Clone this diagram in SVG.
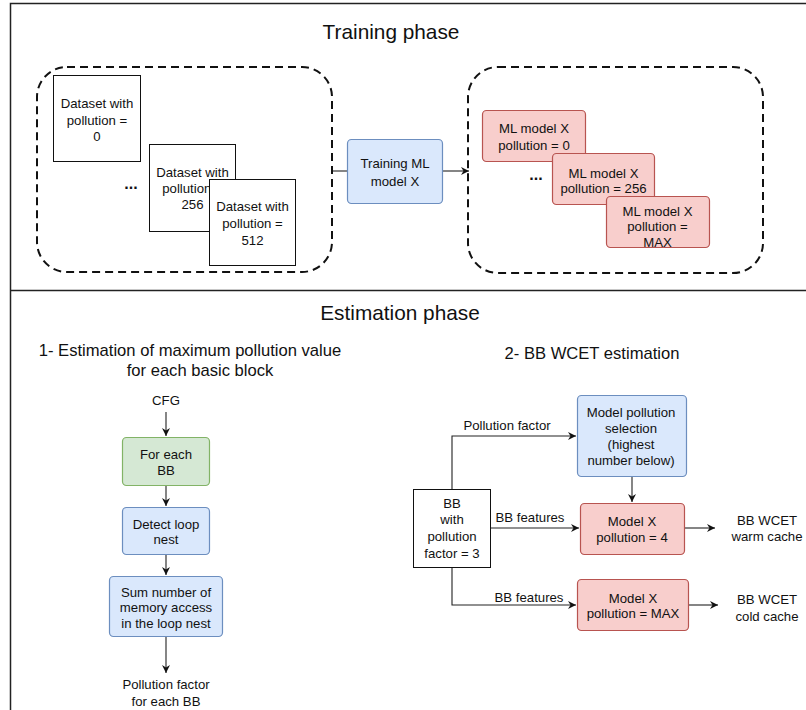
<svg xmlns="http://www.w3.org/2000/svg" width="806" height="710" viewBox="0 0 806 710">
<style>
text{font-family:"Liberation Sans",Arial,sans-serif;fill:#111;text-anchor:middle}
.n{font-size:13.2px}
.t{font-size:20.8px}
.s{font-size:16.6px}
.box{fill:#fff;stroke:#111;stroke-width:1}
.blue{fill:#dae8fc;stroke:#6c8ebf;stroke-width:1.2}
.red{fill:#f8cecc;stroke:#b85450;stroke-width:1.2}
.green{fill:#d5e8d4;stroke:#82b366;stroke-width:1.2}
.dash{fill:none;stroke:#111;stroke-width:2;stroke-dasharray:8 5}
.c{fill:none;stroke:#222;stroke-width:1.1}
.dots{font-size:16px;font-weight:bold}
</style>
<defs>
<marker id="ar" markerWidth="10" markerHeight="10" refX="8" refY="5" orient="auto" markerUnits="userSpaceOnUse">
<path d="M0,1 L8,5 L0,9 L2.5,5 Z" fill="#111"/>
</marker>
</defs>
<rect width="806" height="710" fill="#fff"/>
<g id="frame">
<rect x="10.5" y="3.5" width="820" height="800" fill="none" stroke="#222" stroke-width="1.5"/>
<line x1="10" y1="290.5" x2="806" y2="290.5" stroke="#222" stroke-width="1.5"/>
</g>
<g id="titles">
<text class="t" x="391" y="39">Training phase</text>
<text class="t" x="400" y="320">Estimation phase</text>
<text class="s" x="190" y="356">1- Estimation of maximum pollution value</text>
<text class="s" x="200" y="376">for each basic block</text>
<text class="s" x="592" y="359">2- BB WCET estimation</text>
</g>
<g id="connectors">
<line class="c" x1="332" y1="171" x2="347" y2="171"/>
<line class="c" x1="443" y1="171" x2="469" y2="171" marker-end="url(#ar)"/>
<line class="c" x1="166" y1="412" x2="166" y2="436" marker-end="url(#ar)"/>
<line class="c" x1="166" y1="486" x2="166" y2="506" marker-end="url(#ar)"/>
<line class="c" x1="166" y1="555" x2="166" y2="575" marker-end="url(#ar)"/>
<line class="c" x1="166" y1="637" x2="166" y2="673" marker-end="url(#ar)"/>
<polyline class="c" points="452,489 452,436 576,436" marker-end="url(#ar)"/>
<line class="c" x1="491" y1="528" x2="579" y2="528" marker-end="url(#ar)"/>
<polyline class="c" points="452,567 452,605 576,605" marker-end="url(#ar)"/>
<line class="c" x1="632" y1="476" x2="632" y2="502" marker-end="url(#ar)"/>
<line class="c" x1="684" y1="528" x2="715" y2="528" marker-end="url(#ar)"/>
<line class="c" x1="689" y1="605" x2="718" y2="605" marker-end="url(#ar)"/>
<text class="n" x="507" y="429.5">Pollution factor</text>
<text class="n" x="530" y="521.5">BB features</text>
<text class="n" x="529" y="601.5">BB features</text>
</g>
<g id="datasets-group">
<rect class="dash" x="37" y="67" width="295" height="205" rx="30"/>
</g>
<g id="dataset0">
<rect class="box" x="53.5" y="75.5" width="87" height="86"/>
<text class="n" x="97" y="108">Dataset with</text>
<text class="n" x="97" y="124.5">pollution =</text>
<text class="n" x="97" y="140.5">0</text>
</g>
<g id="dots1"><text class="dots" x="131" y="189">...</text></g>
<g id="dataset256">
<rect class="box" x="149.5" y="144.5" width="86" height="87"/>
<text class="n" x="192.5" y="177">Dataset with</text>
<text class="n" x="192.5" y="193">pollution =</text>
<text class="n" x="192.5" y="208.5">256</text>
</g>
<g id="dataset512">
<rect class="box" x="209.5" y="179.5" width="86" height="86"/>
<text class="n" x="252.5" y="211">Dataset with</text>
<text class="n" x="252.5" y="227.5">pollution =</text>
<text class="n" x="252.5" y="244.5">512</text>
</g>
<g id="training">
<rect class="blue" x="347.5" y="139.5" width="95" height="64" rx="4"/>
<text class="n" x="395" y="168">Training ML</text>
<text class="n" x="395" y="186">model X</text>
</g>
<g id="models-group">
<rect class="dash" x="468" y="67" width="295" height="206" rx="30"/>
</g>
<g id="model0">
<rect class="red" x="482.5" y="110.5" width="103" height="51" rx="4"/>
<text class="n" x="534" y="133">ML model X</text>
<text class="n" x="534" y="149.5">pollution = 0</text>
</g>
<g id="dots2"><text class="dots" x="536" y="180">...</text></g>
<g id="model256">
<rect class="red" x="552.5" y="153.5" width="102" height="51" rx="4"/>
<text class="n" x="603.5" y="178">ML model X</text>
<text class="n" x="603.5" y="193">pollution = 256</text>
</g>
<g id="modelMax">
<rect class="red" x="606.5" y="196.5" width="103" height="51" rx="4"/>
<text class="n" x="657.5" y="216">ML model X</text>
<text class="n" x="657.5" y="231">pollution =</text>
<text class="n" x="657.5" y="247">MAX</text>
</g>
<g id="cfg"><text class="n" x="166" y="404.5">CFG</text></g>
<g id="foreach">
<rect class="green" x="122.5" y="437.5" width="87" height="48" rx="4"/>
<text class="n" x="166" y="458.5">For each</text>
<text class="n" x="166" y="474.5">BB</text>
</g>
<g id="detect">
<rect class="blue" x="122.5" y="507.5" width="87" height="47" rx="4"/>
<text class="n" x="166" y="528.5">Detect loop</text>
<text class="n" x="166" y="544">nest</text>
</g>
<g id="sum">
<rect class="blue" x="109.5" y="576.5" width="113" height="60" rx="4"/>
<text class="n" x="166" y="596.5">Sum number of</text>
<text class="n" x="166" y="612">memory access</text>
<text class="n" x="166" y="627.5">in the loop nest</text>
</g>
<g id="pf-out">
<text class="n" x="166" y="688.5">Pollution factor</text>
<text class="n" x="166" y="706">for each BB</text>
</g>
<g id="selection">
<rect class="blue" x="577.5" y="395.5" width="109" height="81" rx="4"/>
<text class="n" x="631" y="416.5">Model pollution</text>
<text class="n" x="631" y="432.5">selection</text>
<text class="n" x="631" y="449">(highest</text>
<text class="n" x="631" y="465">number below)</text>
</g>
<g id="bb">
<rect class="box" x="413.5" y="489.5" width="77" height="78"/>
<text class="n" x="452" y="507.5">BB</text>
<text class="n" x="452" y="523.5">with</text>
<text class="n" x="452" y="541">pollution</text>
<text class="n" x="452" y="557.5">factor = 3</text>
</g>
<g id="model4">
<rect class="red" x="580.5" y="503.5" width="104" height="51" rx="4"/>
<text class="n" x="632" y="526">Model X</text>
<text class="n" x="632" y="541.5">pollution = 4</text>
</g>
<g id="modelMaxEst">
<rect class="red" x="577.5" y="579.5" width="111" height="51" rx="4"/>
<text class="n" x="633" y="602.5">Model X</text>
<text class="n" x="633" y="617.5">pollution = MAX</text>
</g>
<g id="warm">
<text class="n" x="767" y="524.5">BB WCET</text>
<text class="n" x="767" y="541">warm cache</text>
</g>
<g id="cold">
<text class="n" x="767" y="603.5">BB WCET</text>
<text class="n" x="767" y="620.5">cold cache</text>
</g>
</svg>
